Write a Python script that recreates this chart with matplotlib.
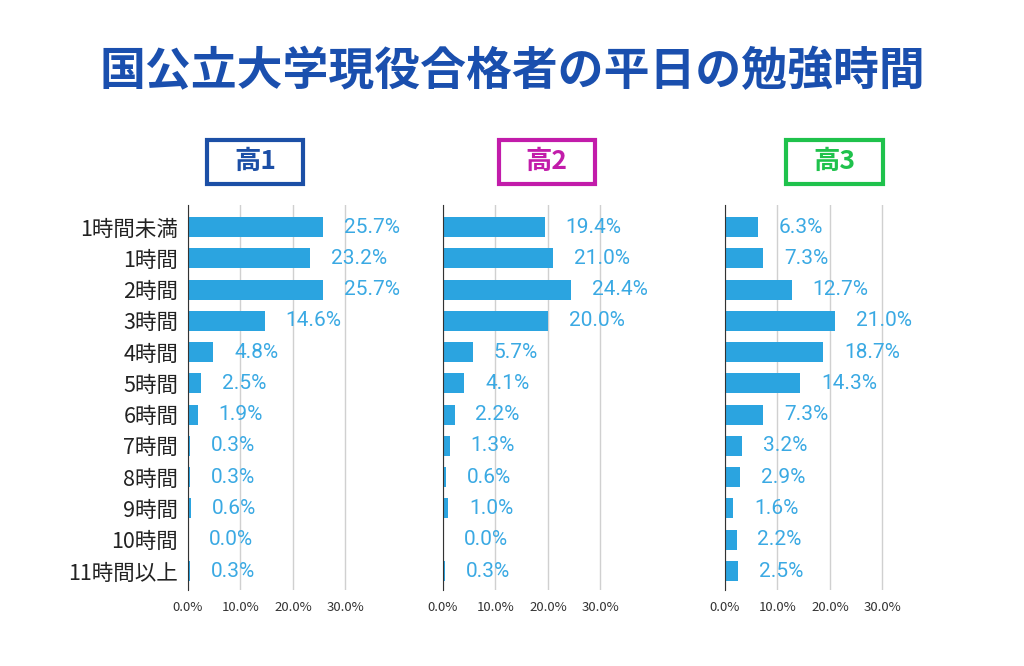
import numpy as np
import matplotlib.pyplot as plt
from matplotlib.patches import Rectangle

plt.rcParams['font.family'] = ['Noto Sans CJK JP', 'DejaVu Sans']

# データ
categories = ['1時間未満', '1時間', '2時間', '3時間', '4時間', '5時間', '6時間',
              '7時間', '8時間', '9時間', '10時間', '11時間以上']
grade1 = [25.7, 23.2, 25.7, 14.6, 4.8, 2.5, 1.9, 0.3, 0.3, 0.6, 0.0, 0.3]
grade2 = [19.4, 21.0, 24.4, 20.0, 5.7, 4.1, 2.2, 1.3, 0.6, 1.0, 0.0, 0.3]
grade3 = [6.3, 7.3, 12.7, 21.0, 18.7, 14.3, 7.3, 3.2, 2.9, 1.6, 2.2, 2.5]
panel_titles = ['高1', '高2', '高3']
xticks = [0, 10, 20, 30]

bar_color = '#2ba4e0'
label_color = '#3aa9e3'
box_colors = ['#1c4fa6', '#c21caa', '#1fc24c']

fig = plt.figure(figsize=(10.24, 6.66), dpi=100)
fig.patch.set_facecolor('white')

fig.text(0.5, 0.892, '国公立大学現役合格者の平日の勉強時間', ha='center', va='center',
         fontsize=33, fontweight='bold', color='#1a4fae')

lefts = [0.1836, 0.4326, 0.708]
box_centers = [0.249, 0.534, 0.815]
y = np.arange(len(categories))

for i, values in enumerate([grade1, grade2, grade3]):
    ax = fig.add_axes([lefts[i], 0.114, 0.205, 0.578])
    ax.barh(y, values, height=0.64, color=bar_color)
    ax.set_xlim(0, 40)
    ax.set_ylim(len(categories) - 0.39, -0.70)
    ax.set_xticks(xticks)
    ax.set_xticklabels([f'{t:.1f}%' for t in xticks], fontsize=9.5, color='#333333')
    ax.grid(axis='x', color='#d0d0d0', linewidth=1)
    ax.set_axisbelow(True)
    for s in ['top', 'right', 'bottom']:
        ax.spines[s].set_visible(False)
    ax.spines['left'].set_color('#333333')
    ax.tick_params(axis='both', length=0)
    ax.tick_params(axis='x', pad=8)
    if i == 0:
        ax.set_yticks(y)
        ax.set_yticklabels(categories, fontsize=15.5, color='#222222')
        ax.tick_params(axis='y', pad=7)
    else:
        ax.set_yticks([])
    for yy, v in zip(y, values):
        ax.annotate(f'{v:.1f}%', xy=(v, yy), xytext=(15, 0), textcoords='offset points',
                    ha='left', va='center', fontsize=15, color=label_color,
                    family=['Roboto', 'DejaVu Sans'])

    # 見出しの枠
    bw, bh = 0.094, 0.066
    cx, cy = box_centers[i], 0.757
    fig.patches.append(Rectangle((cx - bw / 2, cy - bh / 2), bw, bh, transform=fig.transFigure,
                                 fill=False, edgecolor=box_colors[i], linewidth=3))
    fig.text(cx, cy, panel_titles[i], ha='center', va='center', fontsize=19,
             fontweight='bold', color=box_colors[i])

fig.savefig('out.png', dpi=100)
